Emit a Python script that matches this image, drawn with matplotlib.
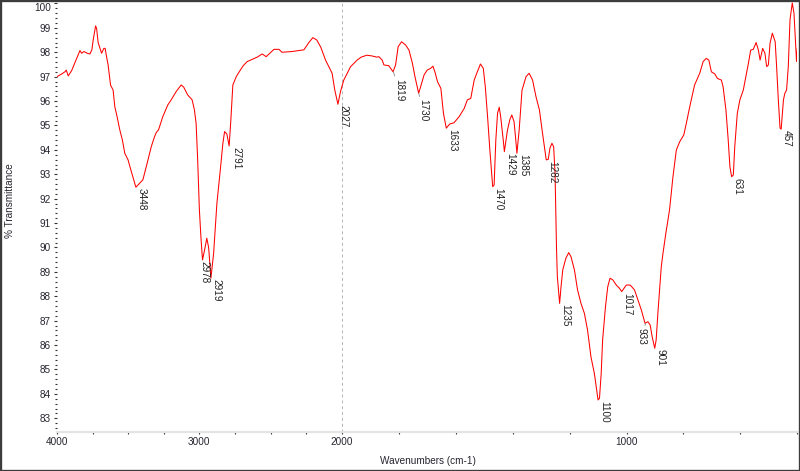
import numpy as np
import matplotlib
matplotlib.use('Agg')
import matplotlib.pyplot as plt
from matplotlib.ticker import FixedLocator, FixedFormatter, NullFormatter
from matplotlib.patches import Rectangle

# ---------------- data ----------------
wavenumbers = [
    4000, 3970, 3944, 3935, 3921, 3897, 3867, 3858, 3839, 3827, 3811, 3788, 3769, 3755,
    3746, 3729, 3722, 3711, 3687, 3671, 3662, 3652, 3641, 3624, 3606, 3594, 3578, 3559,
    3541, 3524, 3501, 3478, 3446, 3420, 3397, 3373, 3338, 3315, 3303, 3287, 3257, 3222,
    3198, 3163, 3128, 3110, 3082, 3051, 3035, 3023, 3012, 3000, 2988, 2978, 2960, 2948,
    2935, 2919, 2900, 2877, 2853, 2835, 2823, 2807, 2791, 2779, 2765, 2755, 2741, 2720,
    2692, 2664, 2629, 2594, 2559, 2531, 2476, 2441, 2420, 2350, 2301, 2266, 2231, 2203,
    2175, 2147, 2114, 2068, 2049, 2027, 2009, 1993, 1969, 1946, 1932, 1912, 1894, 1877,
    1870, 1858, 1852, 1835, 1820, 1811, 1802, 1790, 1776, 1764, 1752, 1743, 1730, 1723,
    1711, 1700, 1688, 1680, 1673, 1664, 1652, 1643, 1633, 1621, 1606, 1588, 1570, 1559,
    1547, 1535, 1524, 1513, 1503, 1496, 1488, 1480, 1470, 1465, 1459, 1453, 1447, 1442,
    1433, 1429, 1418, 1410, 1403, 1395, 1389, 1385, 1377, 1367, 1353, 1342, 1330, 1318,
    1306, 1295, 1282, 1275, 1269, 1262, 1256, 1251, 1248, 1246, 1243, 1235, 1230, 1224,
    1213, 1203, 1195, 1183, 1172, 1160, 1148, 1137, 1125, 1113, 1105, 1100, 1095, 1089,
    1084, 1074, 1066, 1058, 1048, 1036, 1025, 1017, 1001, 987, 972, 960, 948, 935,
    925, 917, 910, 901, 896, 890, 884, 878, 872, 862, 849, 837, 825, 813,
    799, 790, 778, 761, 743, 731, 720, 711, 702, 690, 681, 667, 661, 651,
    643, 637, 631, 625, 620, 611, 602, 590, 581, 572, 564, 555, 545, 537,
    531, 522, 514, 508, 502, 496, 488, 478, 473, 467, 461, 457, 449, 444,
    438, 432, 426, 418, 412, 405, 403, 400,
]
transmittance = [
    97.00, 97.10, 97.20, 97.27, 97.03, 97.25, 97.68, 97.80, 98.07, 97.96, 98.03, 97.96, 97.93, 98.10,
    98.50, 99.08, 98.98, 98.40, 97.96, 98.16, 98.16, 97.82, 97.48, 96.66, 96.45, 95.77, 95.36, 94.82,
    94.41, 93.86, 93.59, 93.11, 92.47, 92.63, 92.77, 93.31, 94.13, 94.54, 94.71, 94.82, 95.36, 95.84,
    96.05, 96.39, 96.66, 96.57, 96.25, 96.05, 95.64, 95.09, 93.59, 91.54, 90.31, 89.49, 90.00, 90.38,
    90.00, 88.74, 89.76, 91.81, 93.18, 94.27, 94.75, 94.65, 94.16, 95.23, 96.66, 96.80, 97.00, 97.20,
    97.45, 97.62, 97.71, 97.80, 97.93, 97.82, 98.12, 98.12, 98.00, 98.03, 98.07, 98.10, 98.40, 98.60,
    98.50, 98.20, 97.68, 97.14, 96.45, 95.87, 96.39, 96.86, 97.41, 97.68, 97.80, 97.88, 97.85, 97.80,
    97.82, 97.68, 97.48, 97.45, 97.20, 97.48, 98.23, 98.43, 98.30, 98.09, 97.55, 97.00, 96.32, 96.59,
    97.07, 97.27, 97.34, 97.43, 97.20, 96.80, 96.52, 95.50, 94.89, 95.06, 95.11, 95.36, 95.70, 96.05,
    96.11, 96.86, 97.20, 97.52, 97.34, 96.59, 95.36, 94.00, 92.49, 92.56, 94.41, 95.50, 95.75, 95.36,
    94.41, 93.93, 94.82, 95.23, 95.43, 95.16, 94.41, 93.86, 94.82, 96.45, 97.00, 97.14, 96.86, 96.18,
    95.64, 94.68, 93.59, 93.61, 94.07, 94.27, 94.13, 93.04, 91.26, 90.00, 88.80, 87.71, 88.39, 89.08,
    89.56, 89.79, 89.62, 89.08, 88.26, 87.71, 87.30, 86.62, 85.52, 84.84, 84.16, 83.75, 83.82, 84.84,
    86.21, 87.57, 88.39, 88.74, 88.67, 88.46, 88.33, 88.19, 88.46, 88.46, 88.26, 87.85, 87.44, 86.89,
    86.96, 86.82, 86.34, 85.87, 86.21, 87.30, 88.26, 89.21, 89.76, 90.58, 91.54, 92.90, 94.00, 94.34,
    94.61, 95.09, 95.77, 96.66, 97.14, 97.62, 97.75, 97.68, 97.20, 97.11, 96.93, 96.86, 96.59, 95.64,
    94.41, 93.31, 92.90, 92.97, 94.13, 95.50, 96.05, 96.45, 97.00, 97.55, 98.09, 98.12, 98.40, 98.09,
    97.68, 98.16, 97.96, 97.41, 97.48, 98.37, 98.78, 98.43, 97.41, 96.05, 94.89, 94.85, 96.05, 96.32,
    96.45, 97.41, 99.33, 100.02, 99.60, 98.09, 97.62, 98.16,
]
peak_labels = [3448, 2978, 2919, 2791, 2027, 1819, 1730, 1633, 1470, 1429, 1385,
               1282, 1235, 1100, 1017, 933, 901, 631, 457]
x_major_ticks = [4000, 3000, 2000, 1000]
x_major_labels = ['4000', '3000', '2000', '1000']
x_minor_ticks = [3750, 3500, 3250, 2750, 2500, 2250, 1800, 1600, 1400, 1200, 800, 600, 400]
y_major_ticks = list(range(83, 101))

# ---------------- styling ----------------
FONT = 'Liberation Sans'
FS = 7.2
TXT = '#25252f'

wn = np.array(wavenumbers, dtype=float)
tr = np.array(transmittance, dtype=float)

fig = plt.figure(figsize=(8.0, 4.71), dpi=100)
ax = fig.add_axes([57 / 800, 1 - 431.7 / 471, (797.4 - 57) / 800, (431.7 - 2.0) / 471])


def fwd(x):
    x = np.asarray(x, dtype=float)
    return np.where(x >= 2000, x, 2 * x - 2000)


def inv(y):
    y = np.asarray(y, dtype=float)
    return np.where(y >= 2000, y, (y + 2000) / 2)


ax.set_xscale('function', functions=(fwd, inv))
ax.set_xlim(4000, 400)
ax.set_ylim(82.45, 100.06)

ax.axvline(2000, color='#b5b5b5', lw=0.7, ls=(0, (3, 3)), zorder=0)
ax.plot(wn, tr, color='#ff0000', lw=0.75, zorder=3)

# axes styling
for s in ['top', 'right', 'left']:
    ax.spines[s].set_visible(False)
ax.spines['bottom'].set_color('#e4e4e4')
ax.spines['bottom'].set_linewidth(1.6)

ax.xaxis.set_major_locator(FixedLocator(x_major_ticks))
ax.xaxis.set_major_formatter(FixedFormatter(x_major_labels))
ax.xaxis.set_minor_locator(FixedLocator(x_minor_ticks))
ax.xaxis.set_minor_formatter(NullFormatter())

ylabels = [str(v) if v != 100 else '' for v in y_major_ticks]
ax.yaxis.set_major_locator(FixedLocator(y_major_ticks))
ax.yaxis.set_major_formatter(FixedFormatter(ylabels))
minor_y = [round(v, 1) for v in np.arange(82.6, 100.01, 0.2) if abs(v - round(v)) > 0.05]
ax.yaxis.set_minor_locator(FixedLocator(minor_y))
ax.yaxis.set_minor_formatter(NullFormatter())

ax.tick_params(axis='x', which='both', direction='out', length=1.6, width=0.8,
               color='#333333', pad=2.5, labelsize=FS, labelcolor=TXT)
ax.tick_params(axis='y', which='major', direction='out', length=2.4, width=0.8,
               color='#333333', pad=2.2, labelsize=FS, labelcolor=TXT)
ax.tick_params(axis='y', which='minor', direction='out', length=1.2, width=0.8,
               color='#333333')
for lab in ax.get_xticklabels() + ax.get_yticklabels():
    lab.set_fontfamily(FONT)

# the top "100" label sits just inside the frame
ax.annotate('100', xy=(0, 100), xycoords=('axes fraction', 'data'),
            xytext=(-6.3, 0), textcoords='offset pixels', ha='right', va='top',
            fontsize=FS, color=TXT, family=FONT)

# peak labels
offsets = {2978: (-3, -1), 1819: (1, -7), 1730: (0, -6), 933: (-9, -5), 2791: (2, -1)}
leaders = {1819, 1730, 933}
for p in peak_labels:
    mask = np.abs(wn - p) <= 9
    yv = tr[mask].min()
    dx, dy = offsets.get(p, (1, -1))
    kw = {}
    if p in leaders:
        kw['arrowprops'] = dict(arrowstyle='-', color='#8a8a8a', lw=0.6,
                                shrinkA=0, shrinkB=0)
    ax.annotate(str(p), xy=(p, yv), xytext=(dx, dy), textcoords='offset pixels',
                rotation=-90, ha='left', va='top', fontsize=FS, color='#222222',
                family=FONT, zorder=4, **kw)

fig.text(427.7 / 800, 1 - 460.7 / 471, 'Wavenumbers (cm-1)', ha='center', va='center',
         fontsize=FS, color=TXT, family=FONT)
fig.text(10 / 800, 1 - 201 / 471, '% Transmittance', ha='center', va='center',
         rotation=90, fontsize=FS, color=TXT, family=FONT)

fig.patches.append(Rectangle((0, 0), 1, 1, transform=fig.transFigure, fill=False,
                             edgecolor='#3c3c3c', lw=2.4, zorder=10))

fig.savefig('out.png', dpi=100, facecolor='white')
